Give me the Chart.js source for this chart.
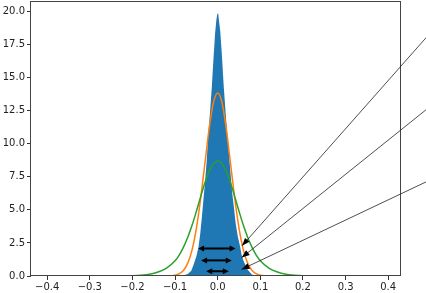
<!DOCTYPE html>
<html>
<head>
<meta charset="utf-8">
<script src="https://cdn.jsdelivr.net/npm/chart.js@4.4.1/dist/chart.umd.min.js"></script>
<style>
  html, body { margin: 0; padding: 0; background: #fff; }
  #wrap { width: 426px; height: 293px; }
</style>
</head>
<body>
<div id="wrap"><canvas id="chart"></canvas></div>
<script>
// Histogram outline (density)
const histX = [-0.44, -0.10, -0.09, -0.08, -0.07, -0.062, -0.056, -0.050, -0.045, -0.041, -0.037, -0.034, -0.030, -0.026, -0.022, -0.018, -0.014, -0.010, -0.006, -0.003, -0.001,
               0.001, 0.003, 0.006, 0.010, 0.014, 0.018, 0.022, 0.026, 0.030, 0.034, 0.038, 0.042, 0.047, 0.052, 0.056, 0.060, 0.064, 0.070, 0.075, 0.080, 0.090, 0.100, 0.110, 0.43];
const histY = [0, 0, 0.02, 0.05, 0.15, 0.4, 0.9, 1.5, 2.2, 3.2, 4.5, 5.6, 7.0, 8.6, 10.8, 12.4, 14.2, 16.4, 18.4, 19.4, 19.8,
               19.9, 19.3, 18.5, 16.6, 14.4, 12.6, 10.9, 9.4, 7.8, 6.3, 5.2, 4.0, 3.0, 2.3, 1.6, 1.2, 0.9, 0.5, 0.3, 0.12, 0.04, 0.01, 0, 0];

// Fitted curves
const curveX = [-0.44, -0.30, -0.20, -0.18, -0.16, -0.14, -0.12, -0.10, -0.09, -0.08, -0.07, -0.06, -0.05, -0.04, -0.03, -0.02, -0.01, 0,
                0.01, 0.02, 0.03, 0.04, 0.05, 0.06, 0.07, 0.08, 0.09, 0.10, 0.12, 0.14, 0.16, 0.18, 0.20, 0.30, 0.44];
const orangeY = [0, 0, 0, 0, 0, 0, 0.006, 0.064, 0.18, 0.44, 0.99, 2.00, 3.61, 5.86, 8.53, 11.16, 13.12, 13.84,
                 13.12, 11.16, 8.53, 5.86, 3.61, 2.00, 0.99, 0.44, 0.18, 0.064, 0.006, 0, 0, 0, 0, 0, 0];
const greenY = [0, 0, 0.015, 0.05, 0.13, 0.3, 0.6, 1.15, 1.6, 2.2, 2.95, 3.85, 4.9, 6.0, 7.05, 7.92, 8.50, 8.70,
                8.50, 7.92, 7.05, 6.0, 4.9, 3.85, 2.95, 2.2, 1.6, 1.15, 0.6, 0.3, 0.13, 0.05, 0.015, 0, 0];

// Double-headed width markers
const spanY = [2.08, 1.18, 0.36];
const spanLeft = [-0.046, -0.039, -0.027];
const spanRight = [0.042, 0.033, 0.026];

// Pointer lines (tip -> tail, tail runs off the canvas)
const pointerTipX = [0.057, 0.0563, 0.056];
const pointerTipY = [2.28, 1.39, 0.50];
const pointerTailX = [0.489, 0.489, 0.489];
const pointerTailY = [18.03, 12.58, 7.12];

const xTicks = [-0.4, -0.3, -0.2, -0.1, 0.0, 0.1, 0.2, 0.3, 0.4];
const yTicks = [0, 2.5, 5, 7.5, 10, 12.5, 15, 17.5, 20];

const toPoints = (xs, ys) => xs.map((x, i) => ({ x, y: ys[i] }));

function arrowHead(ctx, fromX, fromY, tipX, tipY, len, half) {
    const ang = Math.atan2(tipY - fromY, tipX - fromX);
    ctx.beginPath();
    ctx.moveTo(tipX, tipY);
    ctx.lineTo(tipX - len * Math.cos(ang) + half * Math.sin(ang), tipY - len * Math.sin(ang) - half * Math.cos(ang));
    ctx.lineTo(tipX - len * Math.cos(ang) - half * Math.sin(ang), tipY - len * Math.sin(ang) + half * Math.cos(ang));
    ctx.closePath();
    ctx.fill();
}

const overlay = {
    id: 'overlay',
    afterDatasetsDraw(chart) {
        const { ctx, chartArea: a, scales: { x, y } } = chart;
        ctx.save();

        // frame (all four spines)
        ctx.strokeStyle = '#444';
        ctx.lineWidth = 1;
        ctx.strokeRect(Math.round(a.left) - 0.5, Math.round(a.top) + 0.5,
                       Math.round(a.right - a.left), Math.round(a.bottom - a.top) - 1);

        // horizontal <-> markers
        ctx.strokeStyle = '#000';
        ctx.fillStyle = '#000';
        spanY.forEach((v, i) => {
            const py = y.getPixelForValue(v);
            const x0 = x.getPixelForValue(spanLeft[i]);
            const x1 = x.getPixelForValue(spanRight[i]);
            ctx.lineWidth = 2;
            ctx.beginPath();
            ctx.moveTo(x0 + 4, py);
            ctx.lineTo(x1 - 4, py);
            ctx.stroke();
            arrowHead(ctx, x1, py, x0, py, 6, 3);
            arrowHead(ctx, x0, py, x1, py, 6, 3);
        });

        // thin pointer lines
        pointerTipX.forEach((tx, i) => {
            const px = x.getPixelForValue(tx);
            const py = y.getPixelForValue(pointerTipY[i]);
            const qx = x.getPixelForValue(pointerTailX[i]);
            const qy = y.getPixelForValue(pointerTailY[i]);
            ctx.strokeStyle = '#222';
            ctx.lineWidth = 0.8;
            ctx.beginPath();
            ctx.moveTo(qx, qy);
            ctx.lineTo(px, py);
            ctx.stroke();
            arrowHead(ctx, qx, qy, px, py, 8, 3);
        });

        ctx.restore();
    }
};

const tickFont = { family: 'DejaVu Sans', size: 10 };

new Chart(document.getElementById('chart'), {
    type: 'line',
    data: {
        datasets: [
            {
                label: 'hist',
                data: toPoints(histX, histY),
                backgroundColor: '#1f77b4',
                borderWidth: 0,
                fill: 'origin',
                tension: 0,
                pointRadius: 0,
                order: 3
            },
            {
                label: 'fit 1',
                data: toPoints(curveX, orangeY),
                borderColor: '#ff7f0e',
                borderWidth: 1.5,
                fill: false,
                cubicInterpolationMode: 'monotone',
                pointRadius: 0,
                order: 2
            },
            {
                label: 'fit 2',
                data: toPoints(curveX, greenY),
                borderColor: '#2ca02c',
                borderWidth: 1.5,
                fill: false,
                cubicInterpolationMode: 'monotone',
                pointRadius: 0,
                order: 1
            }
        ]
    },
    options: {
        responsive: true,
        maintainAspectRatio: false,
        animation: false,
        events: [],
        layout: { padding: { top: 1, right: 25, left: 0, bottom: 0 } },
        plugins: { legend: { display: false }, tooltip: { enabled: false } },
        scales: {
            x: {
                type: 'linear',
                min: -0.438,
                max: 0.43,
                afterBuildTicks: (s) => { s.ticks = xTicks.map(v => ({ value: v })); },
                afterFit: (s) => { s.height = 17; s.paddingLeft = 0; s.paddingRight = 0; },
                border: { display: false },
                grid: { drawOnChartArea: false, drawTicks: true, tickLength: 4, tickColor: '#333' },
                ticks: {
                    color: '#222',
                    font: tickFont,
                    padding: 1,
                    maxRotation: 0,
                    callback: (v) => v.toFixed(1).replace('-', '\u2212')
                }
            },
            y: {
                type: 'linear',
                min: 0,
                max: 20.8,
                afterBuildTicks: (s) => { s.ticks = yTicks.map(v => ({ value: v })); },
                afterFit: (s) => { s.width = 31; s.paddingTop = 0; s.paddingBottom = 0; },
                border: { display: false },
                grid: { drawOnChartArea: false, drawTicks: true, tickLength: 4, tickColor: '#333' },
                ticks: {
                    color: '#222',
                    font: tickFont,
                    padding: 2,
                    callback: (v) => v.toFixed(1)
                }
            }
        }
    },
    plugins: [overlay]
});
</script>
</body>
</html>
